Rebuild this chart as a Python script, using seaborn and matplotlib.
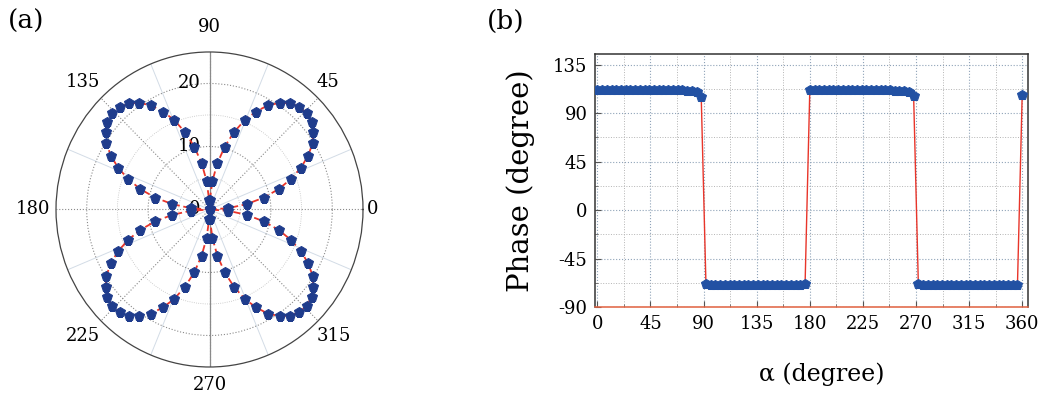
import numpy as np
import pandas as pd
import matplotlib
matplotlib.use("Agg")
import matplotlib.pyplot as plt
import seaborn as sns
from matplotlib.transforms import ScaledTranslation
from matplotlib.ticker import MultipleLocator

# polarizer angle alpha in degrees, sampled every 4 degrees
alpha = list(range(0, 361, 4))

# transmitted amplitude for panel (a)
amplitude = [
    0.0, 3.1, 6.1, 9.0, 11.7, 14.1, 16.3, 18.2, 19.8, 20.9, 21.7, 22.0,
    21.9, 21.4, 20.4, 19.1, 17.3, 15.3, 12.9, 10.3, 7.5, 4.6, 1.5,
    1.5, 4.6, 7.5, 10.3, 12.9, 15.3, 17.3, 19.1, 20.4, 21.4, 21.9, 22.0,
    21.7, 20.9, 19.8, 18.2, 16.3, 14.1, 11.7, 9.0, 6.1, 3.1,
    0.0, 3.1, 6.1, 9.0, 11.7, 14.1, 16.3, 18.2, 19.8, 20.9, 21.7, 22.0,
    21.9, 21.4, 20.4, 19.1, 17.3, 15.3, 12.9, 10.3, 7.5, 4.6, 1.5,
    1.5, 4.6, 7.5, 10.3, 12.9, 15.3, 17.3, 19.1, 20.4, 21.4, 21.9, 22.0,
    21.7, 20.9, 19.8, 18.2, 16.3, 14.1, 11.7, 9.0, 6.1, 3.1,
    0.0,
]

# phase in degrees for panel (b)
phase = [
    111.6, 111.4, 111.5, 111.7, 111.5, 111.4, 111.6, 111.5, 111.3, 111.5, 111.6,
    111.4, 111.5, 111.5, 111.3, 111.4, 111.5, 111.3, 111.2, 111.0, 110.6, 110.0,
    105.0,
    -69.0, -69.2, -69.1, -69.3, -69.4, -69.2, -69.5, -69.3, -69.4, -69.6, -69.5,
    -69.4, -69.5, -69.6, -69.3, -69.4, -69.5, -69.3, -69.2, -69.4, -69.1, -69.0,
    111.2, 111.5, 111.6, 111.4, 111.5, 111.6, 111.4, 111.5, 111.5, 111.3, 111.6,
    111.4, 111.5, 111.3, 111.4, 111.5, 111.2, 111.3, 111.1, 110.8, 110.4, 109.6,
    106.0,
    -69.0, -69.3, -69.2, -69.4, -69.3, -69.5, -69.4, -69.6, -69.5, -69.4, -69.5,
    -69.6, -69.4, -69.5, -69.3, -69.4, -69.5, -69.3, -69.4, -69.2, -69.3, -69.1,
    107.0,
]

angle_ticks = [0, 45, 90, 135, 180, 225, 270, 315]
angle_labels = ["0", "45", "90", "135", "180", "225", "270", "315"]
radial_ticks = [0, 10, 20]
alpha_ticks = [0, 45, 90, 135, 180, 225, 270, 315, 360]
phase_ticks = [-90, -45, 0, 45, 90, 135]

RED = "#e8352a"
NAVY = "#1f3c8c"
BLUE = "#2251a3"

sns.set_style("ticks")
plt.rcParams["font.family"] = ["DejaVu Serif"]
plt.rcParams["mathtext.fontset"] = "dejavuserif"
plt.rcParams["axes.unicode_minus"] = False
plt.rcParams["text.color"] = "black"
plt.rcParams["axes.labelcolor"] = "black"

fig = plt.figure(figsize=(10.41, 3.98), dpi=100)

# ---------------- (a) polar amplitude pattern ----------------
ax1 = fig.add_axes([0.0538, 0.0779, 0.2949, 0.7915], projection="polar")
ax1.set_aspect("auto")

df_a = pd.DataFrame({"theta": np.deg2rad(alpha), "amp": amplitude})
sns.lineplot(data=df_a, x="theta", y="amp", ax=ax1, sort=False, estimator=None,
             color=RED, lw=1.3, linestyle=(0, (4, 2)), marker="p",
             markersize=7, markerfacecolor=NAVY, markeredgecolor=NAVY, zorder=5)
ax1.set_xlabel("")
ax1.set_ylabel("")

ax1.set_ylim(0, 25)
ax1.set_yticks([10, 20])
ax1.set_yticks([5, 15], minor=True)
ax1.set_yticklabels([])
ax1.set_xticks(np.deg2rad(angle_ticks))
ax1.set_xticks(np.deg2rad(np.arange(22.5, 360, 45)), minor=True)
ax1.set_xticklabels([])
ax1.grid(which="major", color="#8a8a8a", lw=0.8, linestyle=":")
ax1.xaxis.grid(which="minor", color="#d3dce6", lw=0.7, linestyle="-")
ax1.yaxis.grid(which="minor", color="#c0c0c0", lw=0.6, linestyle=":")
ax1.tick_params(axis="x", which="major", length=4, direction="out", color="#444444")
ax1.tick_params(axis="x", which="minor", length=0)
ax1.spines["polar"].set_color("#444444")
ax1.spines["polar"].set_linewidth(0.9)
ax1.axvline(np.pi / 2, color="#8a8a8a", lw=0.9, zorder=1)
ax1.axvline(3 * np.pi / 2, color="#8a8a8a", lw=0.9, zorder=1)

# angle labels around the rim (pixel offsets from the rim)
rim_offsets = [(10, 0), (10, 16), (0, 25), (-18, 16), (-23, 0), (-18, -15), (0, -18), (16, -15)]
for ang, lab, (dx, dy) in zip(angle_ticks, angle_labels, rim_offsets):
    tr = ax1.transData + ScaledTranslation(dx / 100, dy / 100, fig.dpi_scale_trans)
    ax1.text(np.deg2rad(ang), 25, lab, transform=tr, ha="center", va="center",
             fontsize=13, color="black", clip_on=False)

# radial labels along the 90 degree spoke
for rv in radial_ticks:
    tr = ax1.transData + ScaledTranslation(-9 / 100, 0, fig.dpi_scale_trans)
    ax1.text(np.pi / 2, rv, str(rv), transform=tr, ha="right", va="center",
             fontsize=13, color="black", zorder=3)

# ---------------- (b) phase versus alpha ----------------
ax2 = fig.add_axes([0.5716, 0.2286, 0.416, 0.6357])
df_b = pd.DataFrame({"alpha": alpha, "phase": phase})
sns.lineplot(data=df_b, x="alpha", y="phase", ax=ax2, sort=False, estimator=None,
             color=RED, lw=1.0, marker="p", markersize=7.5,
             markerfacecolor=BLUE, markeredgecolor=BLUE, zorder=5)

ax2.set_xlim(-2, 365)
ax2.set_ylim(-90, 145)
ax2.set_xticks(alpha_ticks)
ax2.set_yticks(phase_ticks)
ax2.xaxis.set_minor_locator(MultipleLocator(22.5))
ax2.yaxis.set_minor_locator(MultipleLocator(22.5))
ax2.grid(which="major", color="#8fa3b8", lw=0.8, linestyle=":")
ax2.grid(which="minor", color="#b4b4b4", lw=0.7, linestyle=":")
ax2.set_axisbelow(True)
ax2.tick_params(which="major", direction="in", length=4, width=0.8, labelsize=13, pad=5.5,
                color="#555555", labelcolor="black")
ax2.tick_params(which="minor", direction="in", length=2.5, width=0.7, color="#777777")
for side in ["left", "top", "right"]:
    ax2.spines[side].set_color("#333333")
    ax2.spines[side].set_linewidth(1.1)
ax2.spines["bottom"].set_color("#e0603f")
ax2.spines["bottom"].set_linewidth(1.1)

ax2.set_xlabel("α (degree)", fontsize=17, va="center")
ax2.xaxis.set_label_coords(0.524, -0.265)
ax2.set_ylabel("Phase (degree)", fontsize=21, va="center")
ax2.yaxis.set_label_coords(-0.171, 0.5)

fig.text(8 / 1041, 1 - 21 / 398, "(a)", ha="left", va="center", fontsize=19)
fig.text(487 / 1041, 1 - 21 / 398, "(b)", ha="left", va="center", fontsize=19)

fig.savefig("out.png", dpi=100, facecolor="white")
